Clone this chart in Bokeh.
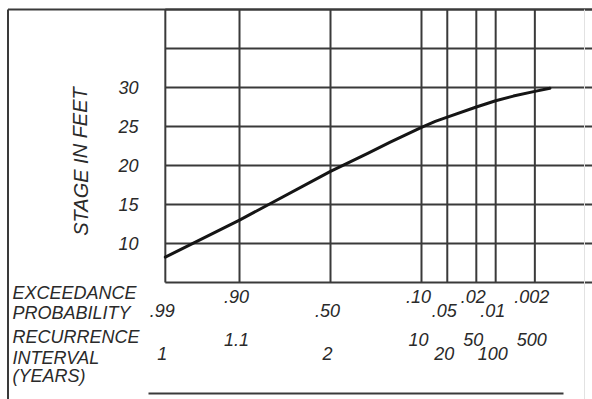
from statistics import NormalDist
from bokeh.plotting import figure
from bokeh.models import Range1d
from bokeh.core.properties import value
from bokeh.embed import file_html
from bokeh.resources import INLINE

# ---- data ----
grid_probs = [0.99, 0.90, 0.50, 0.10, 0.05, 0.02, 0.01, 0.002]
prob_labels = [".99", ".90", ".50", ".10", ".05", ".02", ".01", ".002"]
recurrence_labels = ["1", "1.1", "2", "10", "20", "50", "100", "500"]
stage_ticks = [10, 15, 20, 25, 30]
stage_grid = [5, 10, 15, 20, 25, 30, 35, 40]

curve_probs = [0.99, 0.90, 0.50, 0.30, 0.20, 0.10, 0.07, 0.05, 0.02, 0.01, 0.005, 0.002, 0.001]
curve_stage = [8.25, 13.0, 19.25, 21.55, 23.0, 24.9, 25.65, 26.2, 27.5, 28.3, 28.9, 29.5, 29.9]

# ---- probability (normal) scale ----
nd = NormalDist()
def zx(p):
    return nd.inv_cdf(1.0 - p)

W, H = 592, 399
PX_PER_Z = 71.0
FX_Z0 = 330.0
PX_PER_FT = 7.8
FY_V5 = 282.0

def fx2z(fx):
    return (fx - FX_Z0) / PX_PER_Z

def fy2v(fy):
    return 5 + (FY_V5 - fy) / PX_PER_FT

p = figure(width=W, height=H, output_backend="svg", toolbar_location=None,
           x_axis_type=None, y_axis_type=None, min_border=0,
           x_range=Range1d(fx2z(0), fx2z(W)), y_range=Range1d(fy2v(H), fy2v(0)))
p.outline_line_color = None
p.background_fill_color = "white"
p.border_fill_color = "white"

LINE = "#3a3a3a"
TXT = "#2a2a2a"
font = value("Liberation Sans")

gx = [zx(q) for q in grid_probs]
x_left = gx[0]
x_right = fx2z(W)
v_lo, v_hi = stage_grid[0], stage_grid[-1]

# vertical grid lines
p.segment(x0=gx, y0=[v_lo] * len(gx), x1=gx, y1=[v_hi] * len(gx),
          line_color=LINE, line_width=2)
# horizontal grid lines
p.segment(x0=[x_left] * len(stage_grid), y0=stage_grid,
          x1=[x_right] * len(stage_grid), y1=stage_grid,
          line_color=LINE, line_width=2)
# top border extends to left frame edge
p.segment(x0=[fx2z(7.5)], y0=[v_hi], x1=[x_right], y1=[v_hi], line_color=LINE, line_width=2)
# left border
p.segment(x0=[fx2z(7.5)], y0=[v_hi], x1=[fx2z(7.5)], y1=[fy2v(H)], line_color=LINE, line_width=2)
# faint right edge
p.segment(x0=[fx2z(584)], y0=[v_hi], x1=[fx2z(584)], y1=[fy2v(H)], line_color="#e2e2e2", line_width=1)
# bottom rule
p.segment(x0=[fx2z(148)], y0=[fy2v(393)], x1=[fx2z(563)], y1=[fy2v(393)], line_color=LINE, line_width=2)

# stage-frequency curve
p.line([zx(q) for q in curve_probs], curve_stage, line_color="#151515", line_width=3,
       line_join="round", line_cap="round")

# y tick labels
p.text(x=[fx2z(128)] * len(stage_ticks), y=stage_ticks, text=[str(s) for s in stage_ticks],
       text_font=font, text_font_style="italic", text_font_size="18px",
       text_align="center", text_baseline="middle", text_color=TXT)

# y axis title
p.text(x=[fx2z(80)], y=[fy2v(161)], text=["STAGE IN FEET"], angle=1.5708,
       text_font=font, text_font_style="italic", text_font_size="20px",
       text_align="center", text_baseline="middle", text_color=TXT)

# left block labels
left_texts = ["EXCEEDANCE", "PROBABILITY", "RECURRENCE", "INTERVAL", "(YEARS)"]
left_fy = [292, 312, 336, 357, 375]
p.text(x=[fx2z(12)] * 5, y=[fy2v(f) for f in left_fy], text=left_texts,
       text_font=font, text_font_style="italic", text_font_size="18px",
       text_align="left", text_baseline="middle", text_color=TXT)

# probability labels (staggered)
up_p, up_r = 296, 339
lo_p, lo_r = 310, 353
prob_rows = [lo_p, up_p, lo_p, up_p, lo_p, up_p, lo_p, up_p]
rec_rows = [lo_r, up_r, lo_r, up_r, lo_r, up_r, lo_r, up_r]
p.text(x=gx, y=[fy2v(f) for f in prob_rows], text=prob_labels, x_offset=-3,
       text_font=font, text_font_style="italic", text_font_size="18px",
       text_align="center", text_baseline="middle", text_color=TXT)
p.text(x=gx, y=[fy2v(f) for f in rec_rows], text=recurrence_labels, x_offset=-3,
       text_font=font, text_font_style="italic", text_font_size="18px",
       text_align="center", text_baseline="middle", text_color=TXT)

open("out.html", "w").write(file_html(p, INLINE))
